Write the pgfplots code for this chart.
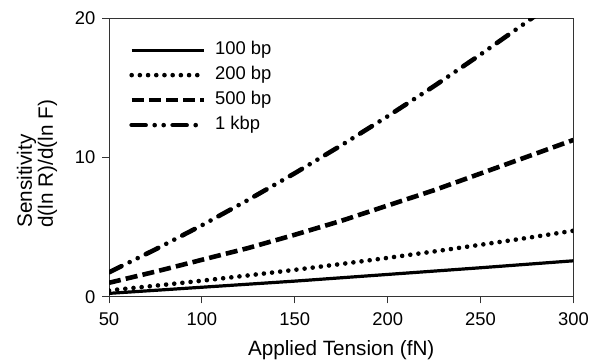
\documentclass[border=0pt]{standalone}
\usepackage{fontspec}
\setmainfont{Liberation Sans}
\usepackage{pgfplots}
\pgfplotsset{compat=1.18}
\usepackage{pgfplotstable}

\pgfplotstableread{
x y
50 0.24
100 0.68
150 1.12
200 1.60
250 2.08
300 2.58
}\tabA
\pgfplotstableread{
x y
50 0.45
75 0.79
100 1.15
125 1.53
150 1.93
175 2.35
200 2.79
225 3.25
250 3.73
275 4.22
300 4.74
}\tabB
\pgfplotstableread{
x y
50 1.00
75 1.80
100 2.65
125 3.50
150 4.45
175 5.45
200 6.55
225 7.65
250 8.85
275 10.05
300 11.26
}\tabC
\pgfplotstableread{
x y
50 1.75
75 3.40
100 5.13
125 6.96
150 8.87
175 10.87
200 12.96
225 15.13
250 17.40
275 19.75
300 22.19
}\tabD

\begin{document}
\begin{tikzpicture}
\begin{axis}[
  scale only axis,
  width=232.2pt, height=139.2pt,
  xmin=50, xmax=300, ymin=0, ymax=20,
  xtick={50,100,150,200,250,300},
  ytick={0,10,20},
  tick align=outside,
  xtick pos=bottom, ytick pos=left,
  major tick length=3.3pt,
  axis line style={black!80, line width=0.5pt},
  every tick/.style={black!80, line width=0.5pt},
  /pgf/number format/assume math mode=true,
  ticklabel style={font=\fontsize{9.2}{11}\selectfont},
  xticklabel style={yshift=-1.3pt},
  xlabel={Applied Tension (fN)},
  ylabel={Sensitivity\\d(ln R)/d(ln F)},
  label style={font=\fontsize{10.35}{10.5}\selectfont},
  xlabel style={at={(axis description cs:0.5,0)}, anchor=base, yshift=-29.5pt, inner sep=0pt},
  ylabel style={at={(axis description cs:-0.1105,0.2468)}, anchor=south west, align=left, inner sep=0pt},
  legend style={at={(axis description cs:0.043,0.932)}, anchor=north west, draw=none, fill=none,
    font=\fontsize{9.2}{11}\selectfont, inner sep=0pt,
    nodes={inner sep=2pt, text height=6.6pt, text depth=1.9pt},
    /tikz/every odd column/.append style={column sep=2.6pt}},
  legend cell align=left,
  legend image code/.code={\draw[#1] (0pt,0pt) -- (36pt,0pt);},
]
\addplot[black, line width=1.6pt, line cap=butt] table[x=x,y=y] {\tabA};
\addlegendentry{100 bp}
\addplot[black, line width=2.3pt, line cap=round, dash pattern=on 0pt off 4.1pt] table[x=x,y=y] {\tabB};
\addlegendentry{200 bp}
\addplot[black, line width=2.3pt, line cap=butt, dash pattern=on 6pt off 2.6pt] table[x=x,y=y] {\tabC};
\addlegendentry{500 bp}
\addplot[black, line width=2.3pt, line cap=round, dash pattern=on 7pt off 4.5pt on 0pt off 4.5pt on 0pt off 4.5pt] table[x=x,y=y] {\tabD};
\addlegendentry{1 kbp}
\end{axis}
\pgfresetboundingbox
\path[use as bounding box] (-54.5pt,-31.65pt) rectangle (244pt,148.35pt);
\end{tikzpicture}
\end{document}
